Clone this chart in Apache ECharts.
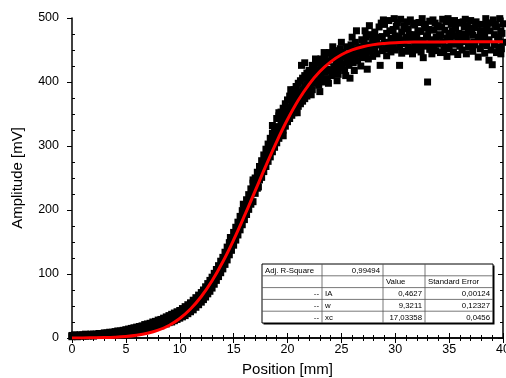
<!DOCTYPE html>
<html>
<head>
<meta charset="utf-8">
<script src="https://cdn.jsdelivr.net/npm/echarts@6/dist/echarts.min.js"></script>
<style>
html,body{margin:0;padding:0;background:#fff;}
#chart{width:506px;height:378px;}
</style>
</head>
<body>
<div id="chart"></div>
<script>
// ---- data ----
const bandX = [0,0.25,0.5,0.75,1,1.25,1.5,1.75,2,2.25,2.5,2.75,3,3.25,3.5,3.75,4,4.25,4.5,4.75,5,5.25,5.5,5.75,6,6.25,6.5,6.75,7,7.25,7.5,7.75,8,8.25,8.5,8.75,9,9.25,9.5,9.75,10,10.25,10.5,10.75,11,11.25,11.5,11.75,
  12,12.2,12.4,12.6,12.8,13,13.2,13.4,13.6,13.8,14,14.2,14.4,14.6,14.8,15,15.2,15.4,15.6,15.8,16,16.2,16.4,16.6,16.8,17,17.2,17.4,17.6,17.8,18,18.2,18.4,18.6,18.8,19,19.2,19.4,19.6,19.8,20,20.2,20.4,20.6,20.8,21,21.2,21.4,21.6,21.8,22];
const bandLow = [2,3,2,3,3,3,3,4,3,4,4,4,5,5,5,6,6,6,7,7,8,8,9,10,10,11,12,13,13,14,16,17,18,19,21,22,24,25,27,29,31,33,35,38,41,44,48,52,
  56,60,64,69,73,78,84,90,96,102,108,115,122,130,137,145,153,161,169,177,185,193,201,209,213,226,234,247,251,260,268,276,283,291,298,305,312,318,325,331,338,343,348,352,357,362,366,370,374,378,382];
const bandMid = [3,4,3,4,4,4,4,5,5,5,5,6,6,7,7,7,8,8,9,9,10,11,12,13,13,14,15,17,17,18,20,21,23,24,26,27,29,31,33,35,37,39,42,45,48,51,55,59,
  63,68,71,77,82,86,92,99,104,111,117,125,131,140,146,155,163,171,180,188,196,205,212,221,229,238,246,255,264,273,282,289,297,305,314,322,330,336,342,348,355,360,366,370,375,380,384,388,392,396,400];
const bandHigh = [4,5,4,5,5,6,5,6,6,6,7,7,8,8,9,9,10,11,11,12,13,14,15,16,17,18,19,21,22,23,25,26,28,29,31,33,35,37,39,41,43,46,49,52,55,59,63,67,
  71,75,80,85,90,95,101,107,113,120,126,134,142,149,157,165,173,181,190,199,208,216,224,233,242,250,259,268,277,286,295,303,312,320,330,343,347,353,359,366,372,378,383,388,393,398,402,406,410,414,418];
// [position, amplitude, amplitude, ...]
const scatterGroups = [
  [14.7,157],[15.9,209],[16.8,247],[17.3,236],[18.6,332],[19.2,352],[19.6,316],[20.3,388],[20.9,352],[21.3,426],
  [21.6,430],[21.9,408],[22.2,380],[22.6,436],[23.0,385],[23.4,446],[23.8,398],[24.2,455],[24.6,402],[25.0,462],[25.4,410],[26.0,470],[26.2,418],[26.8,425],[27.2,480],[27.4,420],[27.8,455],
  [22.1,392,415,404],[22.3,388,426],[22.5,398,411,420],[22.7,401,430],[22.9,395,418],[23.1,409,436,423],[23.3,400,428],[23.5,415,441],[23.7,405,432,420],[23.9,418,446],
  [24.1,410,437],[24.3,424,449,415],[24.5,430,445],[24.7,412,438],[24.9,434,452,422],[25.1,428,446],[25.3,440,418],[25.5,431,455],[25.7,444,426],[25.8,406],
  [25.9,437,458],[26.1,448,430],[26.3,441,462],[26.4,480],[26.5,433,452],[26.7,455,444],[26.9,438,466],[27.1,450,462],[27.3,443,470],[27.5,458,436],[27.6,488],[27.7,448,474],[27.9,465,440],
  [28.1,452,478],[28.2,470],[28.3,467,444],[28.5,486,458],[28.6,426],[28.7,492],[28.8,449,471],[28.9,497],[29.0,462,490],[29.1,452],[29.2,441,476],[29.4,455,496],[29.5,480],[29.6,468,447],[29.7,461],[29.8,482,459],[29.9,499],
  [30.0,450,472],[30.1,487],[30.2,464,493],[30.3,470],[30.4,426,455],[30.5,498],[30.6,478,445],[30.7,466],[30.8,460,488],[30.9,484],[31.0,448,470],[31.1,494],[31.2,483,455],[31.3,474],[31.4,466,497],[31.5,452],[31.6,444,474],[31.7,492],[31.8,458,489],[31.9,468],
  [32.0,470,450],[32.1,480],[32.2,493,462],[32.3,456],[32.4,447,479],[32.5,499],[32.6,465,438],[32.7,490],[32.8,485,456],[32.9,470],[33.0,400,472],[33.1,482],[33.2,451,495],[33.3,460],[33.4,466,444],[33.5,497],[33.6,481,458],[33.7,492],[33.8,449,470],[33.9,486],
  [34.0,488,460],[34.1,472],[34.2,474,446],[34.3,486],[34.4,498,463],[34.5,450],[34.6,455,481],[34.7,494],[34.8,440,469],[34.9,499],[35.0,476,452],[35.1,466],[35.2,461,490],[35.3,480],[35.4,447,472],[35.5,496],[35.6,484,459],[35.7,493],[35.8,468,443],[35.9,476],
  [36.0,492,456],[36.1,466],[36.2,450,475],[36.3,494],[36.4,463,486],[36.5,498],[36.6,444,470],[36.7,488],[36.8,479,455],[36.9,484],[37.0,461,496],[37.1,478],[37.2,448,473],[37.3,462],[37.4,485,458],[37.5,494],[37.6,490],[37.7,439,466],[37.8,470],[37.9,476,452],
  [38.0,480],[38.1,460,490],[38.2,478],[38.3,445,470],[38.4,499],[38.5,482,457],[38.6,492],[38.7,466,434],[38.8,480],[38.9,450,492],[39.0,427],[39.1,497],[39.2,474,458],[39.3,490],[39.4,446,486],[39.5,470],[39.6,468,455],[39.7,499],[39.8,480,444],[39.85,452],[39.9,476],[40.0,462,491]
];
const fitX = [0,1,2,3,4,5,6,7,8,9,10,11,12,13,14,15,16,17,18,19,20,21,22,23,24,25,26,27,28,29,30,31,32,33,34,35,36,37,38,39,40];
const fitY = [0.1,0.1,0.3,0.6,1.2,2.3,4.2,7.3,12.2,19.6,30.4,45.2,64.8,89.4,119.1,153.3,190.7,230.0,269.3,307.0,341.3,371.4,396.4,416.3,431.4,442.5,450.1,455.2,458.4,460.3,461.5,462.1,462.4,462.6,462.6,462.7,462.7,462.7,462.7,462.7,462.7];
const xTicks = [0,5,10,15,20,25,30,35,40];
const yTicks = [0,100,200,300,400,500];
const tableRows = [
  ['Adj. R-Square','0,99494','',''],
  ['','','Value','Standard Error'],
  ['--','IA','0,4627','0,00124'],
  ['--','w','9,3211','0,12327'],
  ['--','xc','17,03358','0,0456']
];

// ---- build ----
const pts = [];
for (let i = 0; i < bandX.length; i++) {
  pts.push([bandX[i], bandLow[i]]);
  pts.push([bandX[i], bandMid[i]]);
  pts.push([bandX[i], bandHigh[i]]);
}
scatterGroups.forEach(g => { for (let j = 1; j < g.length; j++) pts.push([g[0], g[j]]); });
const fitData = fitX.map((x, i) => [x, fitY[i]]);

const FONT = 'Liberation Sans, Arial, sans-serif';
const chart = echarts.init(document.getElementById('chart'), null, {renderer: 'canvas'});

// table graphic
const colEdges = [262, 322, 383, 425, 493];
const rowTop = 264, rowH = 11.8;
const align = (r, c) => {
  if (c === 0) return r === 0 ? 'left' : 'right';
  if (c === 1) return r === 0 ? 'right' : 'left';
  return r === 1 ? 'left' : 'right';
};
const g = [];
const tblW = colEdges[4] - colEdges[0], tblH = rowH * tableRows.length;
g.push({type:'rect', shape:{x:colEdges[0]+1.5, y:rowTop+1.5, width:tblW, height:tblH}, style:{fill:'#000'}, z:100});
g.push({type:'rect', shape:{x:colEdges[0], y:rowTop, width:tblW, height:tblH}, style:{fill:'#fff', stroke:'#000', lineWidth:1}, z:101});
for (let r = 1; r < tableRows.length; r++) {
  g.push({type:'line', shape:{x1:colEdges[0], y1:rowTop + r*rowH, x2:colEdges[4], y2:rowTop + r*rowH}, style:{stroke:'#555', lineWidth:0.8}, z:102});
}
for (let c = 1; c < 4; c++) {
  g.push({type:'line', shape:{x1:colEdges[c], y1:rowTop, x2:colEdges[c], y2:rowTop + tblH}, style:{stroke:'#555', lineWidth:0.8}, z:102});
}
tableRows.forEach((row, r) => {
  row.forEach((txt, c) => {
    if (!txt) return;
    const a = align(r, c);
    const x = a === 'left' ? colEdges[c] + 3 : colEdges[c+1] - 3;
    g.push({type:'text', x: x, y: rowTop + r*rowH + rowH/2 + 0.5, z:103,
      style:{text: txt, fill:'#000', font: '7.8px ' + FONT, textAlign: a, textVerticalAlign: 'middle'}});
  });
});

const axisLine = {show:true, lineStyle:{color:'#000', width:1.5}};
const option = {
  animation: false,
  backgroundColor: '#fff',
  grid: {left:72, right:3, top:18, bottom:40, containLabel:false, outerBoundsMode:'none'},
  xAxis: [
    {type:'value', position:'bottom', min:0, max:40, interval:5,
     axisLine: axisLine,
     axisTick:{show:true, inside:true, length:5, lineStyle:{color:'#000', width:1}},
     minorTick:{show:true, splitNumber:5, length:3, lineStyle:{color:'#000', width:1}},
     axisLabel:{show:true, margin:5, color:'#000', fontSize:12.5, fontFamily:FONT,
       customValues: xTicks, formatter: v => String(v)},
     splitLine:{show:false}, minorSplitLine:{show:false},
     name:'Position [mm]', nameLocation:'middle', nameGap:24,
     nameTextStyle:{color:'#000', fontSize:15, fontFamily:FONT}},
    {type:'value', position:'top', min:0, max:40, interval:5,
     axisLine: axisLine,
     axisTick:{show:true, inside:true, length:5, lineStyle:{color:'#000', width:1}},
     minorTick:{show:true, splitNumber:5, length:3, lineStyle:{color:'#000', width:1}},
     axisLabel:{show:false}, splitLine:{show:false}}
  ],
  yAxis: [
    {type:'value', position:'left', min:0, max:500, interval:100,
     axisLine: axisLine,
     axisTick:{show:true, inside:false, length:5, lineStyle:{color:'#000', width:1}},
     axisLabel:{show:true, margin:13, color:'#000', fontSize:12.5, fontFamily:FONT,
       customValues: yTicks, formatter: v => String(v)},
     splitLine:{show:false},
     name:'Amplitude [mV]', nameLocation:'middle', nameGap:47,
     nameTextStyle:{color:'#000', fontSize:15, fontFamily:FONT}},
    {type:'value', position:'left', min:0, max:500, interval:100,
     axisLine:{show:false},
     axisTick:{show:false, inside:true},
     minorTick:{show:true, splitNumber:4, length:3, lineStyle:{color:'#000', width:1}},
     axisLabel:{show:false}, splitLine:{show:false}},
    {type:'value', position:'right', min:0, max:500, interval:100,
     axisLine: axisLine,
     axisTick:{show:true, inside:true, length:5, lineStyle:{color:'#000', width:1}},
     minorTick:{show:true, splitNumber:4, length:3, lineStyle:{color:'#000', width:1}},
     axisLabel:{show:false}, splitLine:{show:false}}
  ],
  series: [
    {type:'scatter', xAxisIndex:0, yAxisIndex:0, data: pts, symbol:'rect', symbolSize:7,
     itemStyle:{color:'#000', opacity:1}, clip:true, z:2, silent:true},
    {type:'line', xAxisIndex:0, yAxisIndex:0, data: fitData, smooth:0.4, showSymbol:false, symbol:'none',
     lineStyle:{color:'#ff0000', width:3}, clip:true, z:3, silent:true}
  ],
  graphic: g
};
chart.setOption(option);
</script>
</body>
</html>
